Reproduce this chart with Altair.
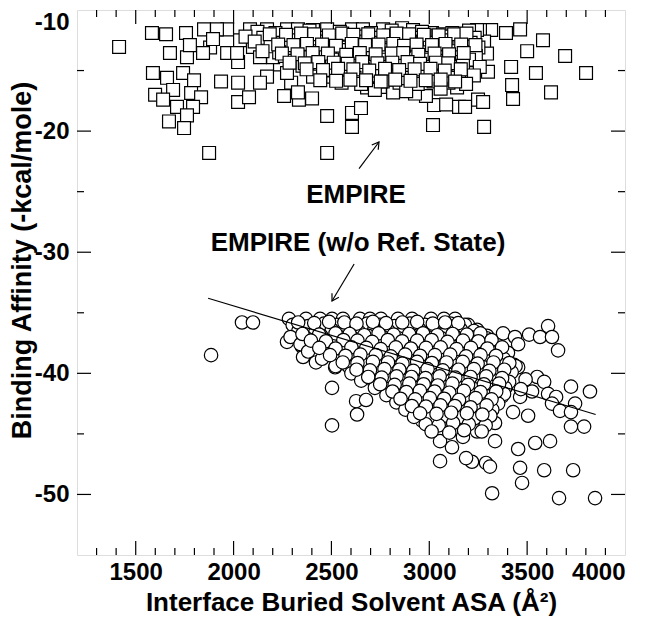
import altair as alt
import pandas as pd

# ---------------- data ----------------
# EMPIRE (squares)
sq_x = [1415, 1583, 1655, 1757, 1849, 1675, 1762, 1967, 2023, 1588, 1660, 1742, 1798, 1599, 1691,
        1640, 1783, 1834, 1711, 1793, 1762, 1670, 1747, 1875, 1936, 2023, 2171, 2135, 2023, 2079,
        2258, 2334, 2401, 2478, 2478, 2294, 2329, 2237, 2084, 1967, 1915, 2171, 2273, 2329, 2406,
        2478, 1880, 1777, 1895, 2033, 2099, 2171, 2237, 2304, 2375, 2442, 2406, 2273, 2202, 2135,
        2508, 2508, 2406, 2478, 2018, 1844,
        3464, 3581, 3500, 3694, 3418, 3545, 3801, 3423, 3622, 3428, 3392, 3316, 3259, 3280, 3295,
        3300, 3218, 3142, 3024, 3086, 3152, 3183, 3249, 3275, 3019, 3280, 2605, 2605, 2651, 2983,
        2815, 2927, 2748, 2682, 2605, 2661, 2764, 2861, 2917, 3014, 3070, 3178, 3244,
        2122, 2214, 2388, 2543, 2702, 2808, 2963, 3118, 3203,
        2061, 2152, 2287, 2353, 2449, 2562, 2628, 2718, 2793, 2881, 2948, 3042, 3109, 3232,
        2108, 2251, 2318, 2424, 2517, 2593, 2677, 2752, 2838, 2903, 2987, 3063, 3148, 3211,
        2189, 2282, 2361, 2458, 2561, 2619, 2703, 2781, 2852, 2928, 3003, 3088, 3182, 3251,
        2148, 2233, 2338, 2441, 2532, 2588, 2663, 2731, 2799, 2883, 2958, 3031, 3122, 3198,
        2262, 2392, 2471, 2558, 2641, 2712, 2768, 2842, 2913, 2988, 3061, 3152, 3238,
        2302, 2418, 2503, 2601, 2682, 2748, 2821, 2892, 2968, 3041, 3112, 3203,
        2352, 2541, 2628, 2702, 2791, 2858, 2942, 3011, 3088, 3172, 3258,
        2483, 2572, 2661, 2738, 2832, 2911, 2993, 3072, 3148,
        2563, 2618, 2709, 2792, 2878, 2961, 3038, 3113, 3228,
        2552, 2652, 2762, 2848, 2941, 3022, 3098, 3188,
        2722, 2882, 3058,
        2185, 2268, 2345, 2412, 2487, 2555, 2612, 2688, 2765, 2833, 2897, 2972, 3048, 3127, 3190,
        2228, 2306, 2375, 2452, 2523, 2604, 2672, 2741, 2816, 2871, 2935, 3014, 3083, 3163, 3236,
        2247, 2327, 2404, 2482, 2576, 2645, 2726, 2808, 2867, 2944, 3027, 3101, 3176,
        2286, 2364, 2433, 2512, 2583, 2657, 2735, 2811, 2889, 2953, 3034, 3097,
        2373, 2457, 2534, 2612, 2693, 2774, 2846, 2925, 3006, 3079, 3161,
        2443, 2524, 2597, 2677, 2752, 2826, 2904, 2982, 3058, 3132]
sq_y = [-13.05, -11.9, -12.0, -11.9, -11.6, -13.55, -13.9, -13.55, -14.3, -15.2, -15.6, -15.2, -15.8, -17.0, -16.6,
        -17.4, -16.85, -17.2, -18.0, -18.0, -18.7, -19.2, -19.75, -21.8, -15.9, -16.0, -15.5, -16.0, -17.6, -17.2,
        -17.1, -17.4, -17.3, -18.75, -21.8, -16.0, -16.8, -14.5, -11.6, -11.6, -11.6, -11.6, -11.6, -11.6, -11.65,
        -11.6, -13.1, -12.9, -12.4, -12.5, -13.05, -12.7, -12.5, -13.55, -14.1, -14.7, -15.5, -15.2, -13.9, -13.9,
        -13.55, -15.5, -13.05, -12.7, -13.55, -13.55,
        -11.6, -12.5, -13.4, -13.8, -14.7, -15.2, -15.2, -16.2, -16.8, -17.35, -11.9, -11.65, -11.65, -12.6, -13.6,
        -15.1, -15.2, -16.4, -17.85, -17.8, -18.0, -18.0, -17.4, -17.6, -19.5, -19.65, -19.65, -18.5, -18.1, -17.1,
        -16.8, -16.9, -16.35, -16.4, -11.6, -11.6, -11.6, -11.5, -11.65, -11.9, -12.0, -12.2, -11.65,
        -11.8, -11.9, -11.7, -11.8, -11.9, -11.7, -11.8, -11.9, -11.7,
        -12.2, -12.3, -12.1, -12.2, -12.3, -12.1, -12.2, -12.3, -12.1, -12.2, -12.3, -12.1, -12.2, -12.3,
        -12.6, -12.7, -12.5, -12.6, -12.7, -12.5, -12.6, -12.7, -12.5, -12.6, -12.7, -12.5, -12.6, -12.7,
        -13.0, -13.1, -12.9, -13.0, -13.1, -12.9, -13.0, -13.1, -12.9, -13.0, -13.1, -12.9, -13.0, -13.1,
        -13.4, -13.5, -13.3, -13.4, -13.5, -13.3, -13.4, -13.5, -13.3, -13.4, -13.5, -13.3, -13.4, -13.5,
        -13.8, -13.9, -13.7, -13.8, -13.9, -13.7, -13.8, -13.9, -13.7, -13.8, -13.9, -13.7, -13.8,
        -14.2, -14.3, -14.1, -14.2, -14.3, -14.1, -14.2, -14.3, -14.1, -14.2, -14.3, -14.1,
        -14.6, -14.7, -14.5, -14.6, -14.7, -14.5, -14.6, -14.7, -14.5, -14.6, -14.7,
        -15.0, -15.1, -14.9, -15.0, -15.1, -14.9, -15.0, -15.1, -14.9,
        -15.5, -15.6, -15.4, -15.5, -15.6, -15.4, -15.5, -15.6, -15.4,
        -16.0, -16.1, -15.9, -16.0, -16.1, -15.9, -16.0, -16.1,
        -16.6, -16.7, -16.5,
        -12.0, -12.05, -11.95, -12.0, -12.1, -11.95, -12.05, -12.0, -12.1, -11.95, -12.0, -12.05, -12.1, -12.0, -11.95,
        -12.85, -12.9, -12.8, -12.85, -12.95, -12.8, -12.9, -12.85, -12.8, -12.95, -12.85, -12.9, -12.8, -12.85, -12.9,
        -13.6, -13.65, -13.55, -13.6, -13.7, -13.55, -13.65, -13.6, -13.55, -13.7, -13.6, -13.65, -13.55,
        -14.35, -14.4, -14.3, -14.35, -14.45, -14.3, -14.4, -14.35, -14.3, -14.45, -14.35, -14.4,
        -14.9, -14.95, -14.85, -14.9, -15.0, -14.85, -14.95, -14.9, -14.85, -15.0, -14.9,
        -15.8, -15.85, -15.75, -15.8, -15.9, -15.75, -15.85, -15.8, -15.75, -15.9]

# EMPIRE (w/o Ref. State) (circles)
ci_x = [2283, 2370, 2442, 2503, 2559, 2646, 2697, 2753, 2840, 2912, 3009, 3075, 3132,
        3198, 3244, 3295, 3377, 3438, 3510, 3566, 3607, 3627, 3658, 3454, 3551, 3587, 3724, 3821,
        3607, 3648, 3745, 3627, 3668, 3724, 3791, 3724, 3505, 3428, 3541, 3617, 3454, 3464, 3587,
        3735, 3474, 3321, 3663, 3847, 3290, 3310, 3218, 3188, 3055, 3116, 3055, 3172, 3336, 3244,
        3336, 3014, 3157, 3060, 2963, 3433, 3454, 3525, 3464, 3372, 3392, 3336, 3275,
        2503, 2626, 2677, 2631, 2503, 2043, 2099, 1885,
        2273, 2314, 2350, 2355, 2416, 2421, 2488, 2519, 2580,
        2302, 2381, 2462, 2528, 2601, 2683, 2748, 2822, 2901, 2978, 3052, 3108, 3182,
        2331, 2418, 2502, 2571, 2642, 2719, 2792, 2868, 2951, 3021, 3088, 3162, 3228,
        2291, 2372, 2448, 2541, 2612, 2688, 2761, 2842, 2918, 2991, 3062, 3128, 3211, 3292,
        2342, 2421, 2498, 2582, 2651, 2728, 2812, 2881, 2958, 3032, 3111, 3188, 3272, 3351,
        2381, 2462, 2548, 2622, 2701, 2778, 2852, 2932, 3001, 3082, 3158, 3242, 3318, 3402,
        2452, 2528, 2612, 2681, 2758, 2832, 2908, 2992, 3058, 3142, 3218, 3302, 3381,
        2521, 2592, 2668, 2742, 2818, 2892, 2968, 3042, 3118, 3202, 3278, 3362, 3441,
        2602, 2661, 2732, 2798, 2882, 2948, 3032, 3098, 3182, 3258, 3342, 3421,
        2652, 2718, 2792, 2868, 2942, 3012, 3088, 3172, 3248, 3332, 3408, 3492,
        2722, 2788, 2862, 2928, 3002, 3068, 3152, 3228, 3312, 3388, 3468,
        2781, 2848, 2922, 2988, 3062, 3138, 3222, 3298, 3382,
        2832, 2902, 2968, 3042, 3108, 3192, 3268, 3352,
        2878, 2952, 3018, 3092, 3168, 3252, 3322,
        2922, 3002, 3078, 3158, 3232, 3312,
        2982, 3048, 3122, 3202, 3288,
        3012, 3102, 3178, 3268,
        2330, 2412, 2488, 2566, 2628, 2712, 2779, 2862, 2938, 3018, 3081, 3148,
        2352, 2437, 2521, 2593, 2668, 2741, 2818, 2897, 2968, 3041, 3119, 3192, 3261,
        2395, 2472, 2561, 2633, 2708, 2788, 2861, 2938, 3012, 3093, 3172, 3251, 3318,
        2438, 2521, 2602, 2678, 2752, 2829, 2906, 2983, 3058, 3139, 3213, 3297, 3372,
        2493, 2572, 2648, 2727, 2803, 2877, 2953, 3029, 3107, 3188, 3262, 3341,
        2558, 2633, 2712, 2789, 2863, 2938, 3013, 3088, 3171, 3247, 3328, 3409,
        2628, 2697, 2771, 2847, 2918, 2991, 3069, 3149, 3228, 3307, 3383,
        2688, 2757, 2833, 2909, 2981, 3053, 3133, 3211, 3291, 3372,
        2749, 2823, 2898, 2971, 3043, 3118, 3198, 3279, 3357,
        2812, 2883, 2952, 3027, 3102, 3177, 3262, 3342,
        2853, 2928, 3003, 3076, 3152, 3237, 3318,
        2911, 2983, 3057, 3131, 3211, 3293,
        2953, 3037, 3112, 3192, 3271]
ci_y = [-35.5, -35.5, -35.5, -35.5, -35.5, -35.5, -35.5, -35.5, -35.5, -35.5, -35.5, -35.5, -35.5,
        -36.0, -36.4, -36.9, -36.7, -37.0, -36.8, -37.0, -36.1, -37.0, -38.1, -37.6, -40.3, -40.7, -41.1, -41.5,
        -41.7, -41.95, -42.5, -42.5, -43.1, -43.2, -44.4, -44.4, -43.5, -43.2, -45.75, -45.6, -46.25, -47.8, -48.0,
        -48.0, -49.05, -49.9, -50.3, -50.3, -47.4, -47.7, -47.3, -47.0, -47.25, -46.1, -45.6, -45.25, -45.6, -44.8,
        -44.1, -44.4, -43.6, -43.4, -43.9, -39.3, -39.5, -41.5, -41.95, -41.9, -41.1, -40.3, -40.8,
        -41.2, -42.3, -42.2, -43.4, -44.3, -35.8, -35.8, -38.5,
        -37.4, -36.9, -37.8, -38.65, -37.25, -39.1, -38.1, -39.5, -39.3,
        -36.0, -36.1, -35.9, -36.0, -36.1, -35.9, -36.0, -36.1, -35.9, -36.0, -36.1, -35.9, -36.0,
        -36.5, -36.6, -36.4, -36.5, -36.6, -36.4, -36.5, -36.6, -36.4, -36.5, -36.6, -36.4, -36.5,
        -37.0, -37.1, -36.9, -37.0, -37.1, -36.9, -37.0, -37.1, -36.9, -37.0, -37.1, -36.9, -37.0, -37.1,
        -37.6, -37.7, -37.5, -37.6, -37.7, -37.5, -37.6, -37.7, -37.5, -37.6, -37.7, -37.5, -37.6, -37.7,
        -38.2, -38.3, -38.1, -38.2, -38.3, -38.1, -38.2, -38.3, -38.1, -38.2, -38.3, -38.1, -38.2, -38.3,
        -38.8, -38.9, -38.7, -38.8, -38.9, -38.7, -38.8, -38.9, -38.7, -38.8, -38.9, -38.7, -38.8,
        -39.4, -39.5, -39.3, -39.4, -39.5, -39.3, -39.4, -39.5, -39.3, -39.4, -39.5, -39.3, -39.4,
        -40.0, -40.1, -39.9, -40.0, -40.1, -39.9, -40.0, -40.1, -39.9, -40.0, -40.1, -39.9,
        -40.6, -40.7, -40.5, -40.6, -40.7, -40.5, -40.6, -40.7, -40.5, -40.6, -40.7, -40.5,
        -41.2, -41.3, -41.1, -41.2, -41.3, -41.1, -41.2, -41.3, -41.1, -41.2, -41.3,
        -41.8, -41.9, -41.7, -41.8, -41.9, -41.7, -41.8, -41.9, -41.7,
        -42.4, -42.5, -42.3, -42.4, -42.5, -42.3, -42.4, -42.5,
        -43.0, -43.1, -42.9, -43.0, -43.1, -42.9, -43.0,
        -43.6, -43.7, -43.5, -43.6, -43.7, -43.5,
        -44.2, -44.3, -44.1, -44.2, -44.3,
        -44.8, -44.9, -44.7, -44.8,
        -35.8, -35.85, -35.75, -35.8, -35.9, -35.75, -35.85, -35.8, -35.75, -35.9, -35.8, -35.85,
        -36.75, -36.8, -36.7, -36.75, -36.85, -36.7, -36.8, -36.75, -36.7, -36.85, -36.75, -36.8, -36.7,
        -37.3, -37.35, -37.25, -37.3, -37.4, -37.25, -37.35, -37.3, -37.25, -37.4, -37.3, -37.35, -37.25,
        -37.9, -37.95, -37.85, -37.9, -38.0, -37.85, -37.95, -37.9, -37.85, -38.0, -37.9, -37.95, -37.85,
        -38.5, -38.55, -38.45, -38.5, -38.6, -38.45, -38.55, -38.5, -38.45, -38.6, -38.5, -38.55,
        -39.1, -39.15, -39.05, -39.1, -39.2, -39.05, -39.15, -39.1, -39.05, -39.2, -39.1, -39.15,
        -39.7, -39.75, -39.65, -39.7, -39.8, -39.65, -39.75, -39.7, -39.65, -39.8, -39.7,
        -40.3, -40.35, -40.25, -40.3, -40.4, -40.25, -40.35, -40.3, -40.25, -40.4,
        -40.9, -40.95, -40.85, -40.9, -41.0, -40.85, -40.95, -40.9, -40.85,
        -41.5, -41.55, -41.45, -41.5, -41.6, -41.45, -41.55, -41.5,
        -42.1, -42.15, -42.05, -42.1, -42.2, -42.05, -42.15,
        -42.7, -42.75, -42.65, -42.7, -42.8, -42.65,
        -43.3, -43.35, -43.25, -43.3, -43.4]

# regression line for the circles
fit_x = [1870, 3850]
fit_y = [-33.8, -43.4]

# annotations
label_text = ["EMPIRE", "EMPIRE (w/o Ref. State)"]
label_x = [2626, 2636]
label_y = [-25.3, -29.2]
arrow_x = [2641, 2616]
arrow_y = [-23.1, -30.97]
arrow_x2 = [2743, 2503]
arrow_y2 = [-20.9, -34.03]
arrow_angle = [36.5, 210.7]

# axis ticks
x_labels = [1500, 2000, 2500, 3000, 3500, 4000]
y_labels = [-10, -20, -30, -40, -50]
x_major = [1500, 2000, 2500, 3000, 3500]
x_minor = [1300, 1400, 1600, 1700, 1800, 1900, 2100, 2200, 2300, 2400, 2600, 2700, 2800, 2900,
           3100, 3200, 3300, 3400, 3600, 3700, 3800, 3900]
y_major = [-20, -30, -40, -50]
y_minor = [-15, -25, -35, -45]

# ---------------- chart ----------------
W, H = 548, 545
FONT = "Liberation Sans"
xs = alt.Scale(domain=[1200, 4000], nice=False, zero=False)
ys = alt.Scale(domain=[-55, -10], nice=False, zero=False)

x_axis = alt.Axis(values=x_labels, ticks=False, domain=False, grid=False,
                  labelExpr="'' + datum.value",
                  labelFont=FONT, labelFontWeight="bold", labelFontSize=24,
                  labelColor="black", labelPadding=5,
                  title="Interface Buried Solvent ASA (Å²)",
                  titleFont=FONT, titleFontWeight="bold", titleFontSize=26,
                  titleColor="black", titlePadding=5)
y_axis = alt.Axis(values=y_labels, ticks=False, domain=False, grid=False,
                  labelExpr="'' + datum.value",
                  labelFont=FONT, labelFontWeight="bold", labelFontSize=24,
                  labelColor="black", labelPadding=8,
                  labelFlush=True, labelFlushOffset=0,
                  title="Binding Affinity (-kcal/mole)",
                  titleFont=FONT, titleFontWeight="bold", titleFontSize=27,
                  titleColor="black", titleX=-55, titleY=250, titleBaseline="middle",
                  titleAngle=270)


def X(field):
    return alt.X(field, scale=xs, axis=x_axis)


def Y(field):
    return alt.Y(field, scale=ys, axis=y_axis)


sq = pd.DataFrame({"x": sq_x, "y": sq_y})
ci = pd.DataFrame({"x": ci_x, "y": ci_y})

squares = alt.Chart(sq).mark_point(shape="square", filled=True, fill="white", stroke="black",
                                   strokeWidth=1.2, size=165, opacity=1).encode(
    x=X("x:Q"), y=Y("y:Q"))

circles = alt.Chart(ci).mark_point(shape="circle", filled=True, fill="white", stroke="black",
                                   strokeWidth=1.2, size=180, opacity=1).encode(
    x=X("x:Q"), y=Y("y:Q"))

fit = alt.Chart(pd.DataFrame({"x": fit_x, "y": fit_y})).mark_line(color="black", strokeWidth=1.2).encode(
    x=X("x:Q"), y=Y("y:Q"))

labels = alt.Chart(pd.DataFrame({"t": label_text, "x": label_x, "y": label_y})).mark_text(
    font=FONT, fontWeight="bold", fontSize=26, color="black", align="center", baseline="middle").encode(
    x=X("x:Q"), y=Y("y:Q"), text="t:N")

arr_df = pd.DataFrame({"x": arrow_x, "y": arrow_y, "x2": arrow_x2, "y2": arrow_y2, "a": arrow_angle})
arrows = alt.Chart(arr_df).mark_rule(color="black", strokeWidth=1.2).encode(
    x=X("x:Q"), y=Y("y:Q"), x2="x2:Q", y2="y2:Q")
heads = alt.Chart(arr_df).mark_point(shape="M -0.6 1 L 0 0 L 0.6 1", filled=False, color="black",
                                     strokeWidth=1.2, size=180, opacity=1).encode(
    x=X("x2:Q"), y=Y("y2:Q"), angle=alt.Angle("a:Q", scale=None))


def xticks(vals, length):
    d = pd.DataFrame({"v": vals})
    bot = alt.Chart(d).mark_rule(color="black", strokeWidth=1.2).encode(
        x=X("v:Q"), y=alt.value(H), y2=alt.value(H - length))
    top = alt.Chart(d).mark_rule(color="black", strokeWidth=1.2).encode(
        x=X("v:Q"), y=alt.value(0), y2=alt.value(length))
    return [bot, top]


def yticks(vals, length):
    d = pd.DataFrame({"v": vals})
    left = alt.Chart(d).mark_rule(color="black", strokeWidth=1.2).encode(
        y=Y("v:Q"), x=alt.value(0), x2=alt.value(length))
    right = alt.Chart(d).mark_rule(color="black", strokeWidth=1.2).encode(
        y=Y("v:Q"), x=alt.value(W), x2=alt.value(W - length))
    return [left, right]


layers = ([squares, circles, fit, labels, arrows, heads]
          + xticks(x_major, 14) + xticks(x_minor, 7)
          + yticks(y_major, 14) + yticks(y_minor, 7))

chart = alt.layer(*layers).properties(
    width=W, height=H,
    autosize=alt.AutoSizeParams(type="none"),
    padding={"left": 69, "top": 2, "right": 20, "bottom": 68},
).configure_view(stroke="black", strokeWidth=2).configure(background="white")

chart.save("out.html", embed_options={"renderer": "svg", "actions": False})
